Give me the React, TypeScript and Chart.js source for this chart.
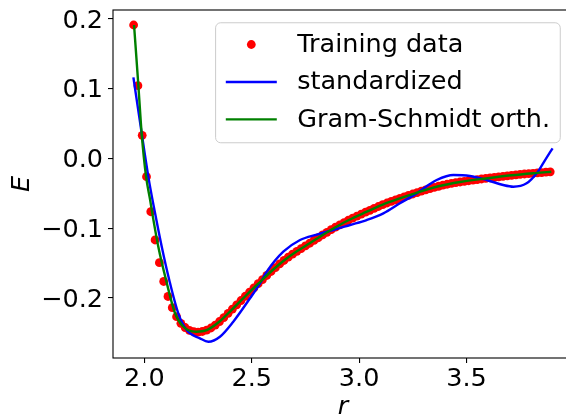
import React, { useEffect, useRef } from 'react';
import { Chart, registerables } from 'chart.js';

Chart.register(...registerables);

// ---- data ----
const trainR = [
  1.95, 1.97, 1.99, 2.01, 2.03, 2.05, 2.07, 2.09, 2.11, 2.13,
  2.15, 2.17, 2.19, 2.21, 2.23, 2.25, 2.27, 2.29, 2.31, 2.33,
  2.35, 2.37, 2.39, 2.41, 2.43, 2.45, 2.47, 2.49, 2.51, 2.53,
  2.55, 2.57, 2.59, 2.61, 2.63, 2.65, 2.67, 2.69, 2.71, 2.73,
  2.75, 2.77, 2.79, 2.81, 2.83, 2.85, 2.87, 2.89, 2.91, 2.93,
  2.95, 2.97, 2.99, 3.01, 3.03, 3.05, 3.07, 3.09, 3.11, 3.13,
  3.15, 3.17, 3.19, 3.21, 3.23, 3.25, 3.27, 3.29, 3.31, 3.33,
  3.35, 3.37, 3.39, 3.41, 3.43, 3.45, 3.47, 3.49, 3.51, 3.53,
  3.55, 3.57, 3.59, 3.61, 3.63, 3.65, 3.67, 3.69, 3.71, 3.73,
  3.75, 3.77, 3.79, 3.81, 3.83, 3.85, 3.87, 3.89,
];
const trainE = [
  0.1914, 0.1044, 0.0333, -0.0261, -0.0763, -0.1168, -0.1494, -0.1763, -0.1978, -0.2139,
  -0.2268, -0.2363, -0.2423, -0.2463, -0.2483, -0.2488, -0.248, -0.2461, -0.243, -0.2388,
  -0.2337, -0.228, -0.222, -0.2158, -0.2097, -0.2036, -0.1975, -0.1915, -0.1855, -0.1795,
  -0.1736, -0.1677, -0.162, -0.1565, -0.1512, -0.1462, -0.1415, -0.1371, -0.133, -0.1291,
  -0.1253, -0.1215, -0.1175, -0.1136, -0.1096, -0.1058, -0.1021, -0.0985, -0.0952, -0.0918,
  -0.0885, -0.0855, -0.0827, -0.0798, -0.077, -0.0743, -0.0715, -0.0688, -0.0661, -0.0638,
  -0.0616, -0.0593, -0.0571, -0.055, -0.053, -0.0509, -0.0488, -0.0468, -0.0449, -0.0431,
  -0.0414, -0.0398, -0.0383, -0.0369, -0.0356, -0.0346, -0.0337, -0.0328, -0.0319, -0.031,
  -0.0302, -0.0294, -0.0286, -0.0278, -0.0271, -0.0263, -0.0256, -0.0249, -0.0241, -0.0234,
  -0.0227, -0.0222, -0.0217, -0.0212, -0.0206, -0.0201, -0.0196, -0.0191,
];

const stdR = [
  1.949, 1.983, 2.019, 2.05, 2.081, 2.116, 2.158, 2.197, 2.259, 2.298,
  2.352, 2.414, 2.492, 2.539, 2.57, 2.647, 2.725, 2.803, 2.88, 2.958,
  3.035, 3.113, 3.19, 3.268, 3.33, 3.361, 3.439, 3.516, 3.594, 3.671,
  3.718, 3.78, 3.827, 3.866, 3.901,
];
const stdE = [
  0.1164, 0.0456, -0.027, -0.0786, -0.1265, -0.1742, -0.2219, -0.2459, -0.2578, -0.2627,
  -0.2555, -0.234, -0.2004, -0.179, -0.1623, -0.1336, -0.1168, -0.109, -0.1025, -0.0953,
  -0.0882, -0.0786, -0.0642, -0.05, -0.0366, -0.0308, -0.0237, -0.0251, -0.0308, -0.038,
  -0.0404, -0.0356, -0.0212, -0.0022, 0.0146,
];

const gsR = [
  1.952, 1.972, 1.988, 2.008, 2.027, 2.037, 2.065, 2.101, 2.143, 2.182,
  2.241, 2.29, 2.35, 2.41, 2.47, 2.53, 2.59, 2.65, 2.71, 2.77,
  2.83, 2.89, 2.95, 3.03, 3.11, 3.19, 3.27, 3.37, 3.47, 3.59,
  3.71, 3.83, 3.895,
];
const gsE = [
  0.1914, 0.1054, 0.0337, -0.0261, -0.0595, -0.0786, -0.1265, -0.1742, -0.2219, -0.2412,
  -0.2483, -0.2461, -0.2337, -0.2158, -0.1975, -0.1795, -0.162, -0.1462, -0.133, -0.1215,
  -0.1096, -0.0985, -0.0885, -0.077, -0.0661, -0.0571, -0.0488, -0.0398, -0.0337, -0.0286,
  -0.0241, -0.0206, -0.0189,
];

const seriesLabels = ['Training data', 'standardized', 'Gram-Schmidt orth.'];
const xTicks = [2.0, 2.5, 3.0, 3.5];
const xTickLabels = ['2.0', '2.5', '3.0', '3.5'];
const yTicks = [-0.2, -0.1, 0.0, 0.1, 0.2];
const yTickLabels = ['\u22120.2', '\u22120.1', '0.0', '0.1', '0.2'];
const xTitle = 'r';
const yTitle = 'E';

const FAMILY = '"DejaVu Sans", sans-serif';
const FS = 25.5;

function labelFor(values: number[], labels: string[], v: number) {
  const i = values.findIndex((t) => Math.abs(t - v) < 1e-9);
  return i >= 0 ? labels[i] : '';
}

const framePlugin = {
  id: 'mplFrame',
  afterDatasetsDraw(chart: any) {
    const { ctx, chartArea: a } = chart;
    ctx.save();
    ctx.strokeStyle = '#000';
    ctx.lineWidth = 1.1;
    ctx.strokeRect(a.left, a.top, a.right - a.left, a.bottom - a.top);
    ctx.restore();
  },
  afterDraw(chart: any) {
    const { ctx, chartArea: a } = chart;
    const fs = FS;
    const pad = 0.4 * fs;
    const handle = 2 * fs;
    const htp = 0.8 * fs;
    const ls = 0.5 * fs;
    const bap = 0.5 * fs;
    const rowH = 24.7;
    ctx.save();
    ctx.font = `${fs}px ${FAMILY}`;
    const ds = chart.data.datasets;
    const tw = Math.max(...ds.map((d: any) => ctx.measureText(d.label).width));
    const w = 2 * pad + handle + htp + tw;
    const h = 2 * pad + ds.length * rowH + (ds.length - 1) * ls;
    const right = a.right - bap;
    const top = a.top + bap;
    const left = right - w;
    const r = 0.2 * fs;
    ctx.beginPath();
    ctx.moveTo(left + r, top);
    ctx.lineTo(left + w - r, top);
    ctx.arcTo(left + w, top, left + w, top + r, r);
    ctx.lineTo(left + w, top + h - r);
    ctx.arcTo(left + w, top + h, left + w - r, top + h, r);
    ctx.lineTo(left + r, top + h);
    ctx.arcTo(left, top + h, left, top + h - r, r);
    ctx.lineTo(left, top + r);
    ctx.arcTo(left, top, left + r, top, r);
    ctx.closePath();
    ctx.fillStyle = 'rgba(255,255,255,0.8)';
    ctx.fill();
    ctx.strokeStyle = '#cccccc';
    ctx.lineWidth = 1;
    ctx.stroke();
    ds.forEach((d: any, i: number) => {
      const cy = top + pad + rowH / 2 + i * (rowH + ls) - 0.8;
      if (!d.showLine) {
        ctx.beginPath();
        ctx.fillStyle = d.backgroundColor;
        ctx.arc(left + pad + handle / 2, cy, d.pointRadius, 0, Math.PI * 2);
        ctx.fill();
      } else {
        ctx.beginPath();
        ctx.strokeStyle = d.borderColor;
        ctx.lineWidth = d.borderWidth;
        ctx.moveTo(left + pad, cy);
        ctx.lineTo(left + pad + handle, cy);
        ctx.stroke();
      }
      ctx.fillStyle = '#000';
      ctx.textBaseline = 'alphabetic';
      ctx.textAlign = 'left';
      ctx.fillText(d.label, left + pad + handle + htp, cy + 7.2);
    });
    ctx.restore();
  },
};

export default function App() {
  const ref = useRef<HTMLCanvasElement | null>(null);

  useEffect(() => {
    if (!ref.current) return;
    const tickFont = { family: FAMILY, size: FS };
    const titleFont = { family: FAMILY, size: FS, style: 'italic' as const };
    const chart = new Chart(ref.current, {
      type: 'scatter',
      data: {
        datasets: [
          {
            label: seriesLabels[0],
            data: trainR.map((x, i) => ({ x, y: trainE[i] })),
            showLine: false,
            pointRadius: 4.4,
            pointHoverRadius: 4.4,
            pointBorderWidth: 0,
            backgroundColor: '#ff0000',
            borderColor: '#ff0000',
            order: 2,
          },
          {
            label: seriesLabels[1],
            data: stdR.map((x, i) => ({ x, y: stdE[i] })),
            showLine: true,
            pointRadius: 0,
            borderColor: '#0000ff',
            backgroundColor: '#0000ff',
            borderWidth: 2.4,
            cubicInterpolationMode: 'monotone',
            fill: false,
            order: 1,
          },
          {
            label: seriesLabels[2],
            data: gsR.map((x, i) => ({ x, y: gsE[i] })),
            showLine: true,
            pointRadius: 0,
            borderColor: '#008000',
            backgroundColor: '#008000',
            borderWidth: 2.4,
            cubicInterpolationMode: 'monotone',
            fill: false,
            order: 0,
          },
        ] as any,
      },
      options: {
        responsive: false,
        animation: false,
        devicePixelRatio: 1,
        layout: { padding: { left: 0, top: 10, right: 7, bottom: 0 } },
        plugins: { legend: { display: false }, tooltip: { enabled: false } },
        scales: {
          x: {
            type: 'linear',
            min: 1.854,
            max: 3.996,
            afterBuildTicks: (s: any) => {
              s.ticks = xTicks.map((value) => ({ value }));
            },
            afterFit: (s: any) => {
              s.height = 56;
              s.paddingLeft = 0;
              s.paddingRight = 0;
            },
            grid: { drawOnChartArea: false, drawTicks: true, tickLength: 5, color: '#000', lineWidth: 1.1 },
            border: { display: false },
            ticks: {
              font: tickFont,
              color: '#000',
              padding: 1,
              maxRotation: 0,
              autoSkip: false,
              callback: (v: any) => labelFor(xTicks, xTickLabels, Number(v)),
            },
            title: { display: true, text: xTitle, font: titleFont, color: '#000', padding: { top: 0, bottom: -9 } },
          },
          y: {
            type: 'linear',
            min: -0.286,
            max: 0.2129,
            afterBuildTicks: (s: any) => {
              s.ticks = yTicks.map((value) => ({ value }));
            },
            afterFit: (s: any) => {
              s.width = 113;
              s.paddingTop = 0;
              s.paddingBottom = 0;
            },
            grid: { drawOnChartArea: false, drawTicks: true, tickLength: 5, color: '#000', lineWidth: 1.1 },
            border: { display: false },
            ticks: {
              font: tickFont,
              color: '#000',
              padding: 5,
              labelOffset: 2,
              autoSkip: false,
              callback: (v: any) => labelFor(yTicks, yTickLabels, Number(v)),
            },
            title: { display: true, text: yTitle, font: titleFont, color: '#000', padding: { top: 7, bottom: 0 } },
          },
        },
      } as any,
      plugins: [framePlugin],
    });
    return () => chart.destroy();
  }, []);

  return (
    <div
      style={{
        position: 'fixed',
        left: 0,
        top: 0,
        width: 566,
        height: 414,
        overflow: 'hidden',
        background: '#fff',
      }}
    >
      <canvas ref={ref} width={580} height={414} style={{ display: 'block' }} />
    </div>
  );
}
